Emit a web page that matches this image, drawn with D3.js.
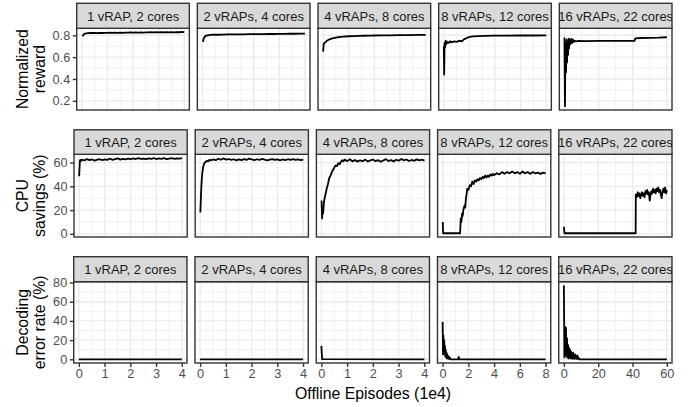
<!DOCTYPE html>
<html>
<head>
<meta charset="utf-8">
<script src="https://cdn.jsdelivr.net/npm/d3@7"></script>
<style>
  html, body { margin: 0; padding: 0; background: #fff; }
  svg { display: block; }
</style>
</head>
<body>
<div id="chart"></div>
<script>
// facet columns (configurations)
const configs = ["1 vRAP, 2 cores", "2 vRAPs, 4 cores", "4 vRAPs, 8 cores", "8 vRAPs, 12 cores", "16 vRAPs, 22 cores"];
const xMaxByConfig = [4, 4, 4, 8, 60];
const xTicksByConfig = [[0, 1, 2, 3, 4], [0, 1, 2, 3, 4], [0, 1, 2, 3, 4], [0, 2, 4, 6, 8], [0, 20, 40, 60]];

// facet rows (metrics)
const metricTitles = [["Normalized", "reward"], ["CPU", "savings (%)"], ["Decoding", "error rate (%)"]];
const yTicksByMetric = [[0.2, 0.4, 0.6, 0.8], [0, 20, 40, 60], [0, 20, 40, 60, 80]];
const yFormatByMetric = [".1f", "d", "d"];
const xTitle = "Offline Episodes (1e4)";

// --- normalized reward, [episodes (1e4), value]
const reward1 = [[0.03,0.790],[0.05,0.800],[0.08,0.810],[0.12,0.815],[0.18,0.818],[0.25,0.820],[0.35,0.821],[0.5,0.822],[0.6,0.820],[0.7,0.823],[0.8,0.821],[0.9,0.823],[1.0,0.822],[1.1,0.824],[1.2,0.822],[1.3,0.824],[1.4,0.823],[1.5,0.825],[1.6,0.823],[1.7,0.825],[1.8,0.824],[1.9,0.826],[2.0,0.824],[2.1,0.826],[2.2,0.825],[2.3,0.827],[2.4,0.825],[2.5,0.827],[2.6,0.826],[2.7,0.828],[2.8,0.826],[2.9,0.828],[3.0,0.827],[3.1,0.829],[3.2,0.826],[3.3,0.828],[3.4,0.827],[3.5,0.829],[3.6,0.827],[3.7,0.829],[3.8,0.828],[3.9,0.830],[4.0,0.829]];
const reward2 = [[0.02,0.740],[0.04,0.765],[0.07,0.780],[0.1,0.790],[0.15,0.797],[0.2,0.800],[0.3,0.803],[0.4,0.805],[0.5,0.806],[0.6,0.805],[0.8,0.807],[1.0,0.808],[1.2,0.808],[1.4,0.809],[1.6,0.809],[1.8,0.810],[2.0,0.810],[2.2,0.811],[2.4,0.811],[2.6,0.812],[2.8,0.812],[3.0,0.813],[3.2,0.813],[3.4,0.814],[3.6,0.814],[3.8,0.815],[4.0,0.815]];
const reward4 = [[0.0,0.650],[0.02,0.720],[0.05,0.728],[0.1,0.740],[0.15,0.750],[0.2,0.758],[0.3,0.767],[0.4,0.774],[0.5,0.779],[0.6,0.783],[0.8,0.788],[1.0,0.791],[1.2,0.793],[1.4,0.795],[1.6,0.796],[1.8,0.797],[2.0,0.798],[2.3,0.799],[2.6,0.800],[3.0,0.801],[3.4,0.802],[3.7,0.803],[4.0,0.803]];
const reward8 = [[0,0.70],[0.03,0.44],[0.06,0.73],[0.1,0.69],[0.15,0.75],[0.2,0.72],[0.3,0.74],[0.4,0.73],[0.5,0.745],[0.6,0.735],[0.8,0.745],[1.0,0.74],[1.2,0.75],[1.4,0.745],[1.6,0.765],[1.8,0.775],[2.0,0.785],[2.3,0.79],[2.7,0.793],[3.2,0.795],[4,0.797],[5,0.797],[6,0.798],[7,0.798],[8,0.799]];
const reward16 = [[0,0.78],[0.3,0.15],[0.6,0.72],[0.9,0.46],[1.2,0.76],[1.5,0.55],[1.8,0.74],[2.1,0.62],[2.4,0.77],[2.7,0.68],[3,0.76],[3.5,0.72],[4,0.77],[4.5,0.73],[5,0.76],[5.5,0.74],[6,0.75],[7,0.745],[8,0.748],[12,0.747],[20,0.748],[30,0.748],[41,0.749],[41.5,0.772],[45,0.775],[50,0.776],[55,0.778],[60,0.782]];

// --- CPU savings (%)
const cpu1 = [[0,48.5],[0.03,62],[0.05,62.2],[0.08,61.5],[0.1,62.5],[0.2,61.8],[0.3,62.9],[0.4,62.0],[0.5,62.6],[0.6,61.7],[0.7,62.4],[0.8,62.8],[0.9,62.1],[1.0,62.7],[1.1,62.3],[1.2,63.4],[1.3,62.2],[1.4,63.0],[1.5,63.6],[1.6,62.5],[1.7,63.1],[1.8,62.7],[1.9,63.3],[2.0,62.8],[2.1,63.5],[2.2,63.0],[2.3,63.7],[2.4,63.1],[2.5,63.4],[2.6,62.9],[2.7,63.6],[2.8,63.2],[2.9,63.8],[3.0,63.0],[3.1,63.5],[3.2,63.1],[3.3,63.7],[3.4,62.9],[3.5,63.4],[3.6,63.8],[3.7,63.2],[3.8,63.6],[3.9,63.3],[4.0,63.7]];
const cpu2 = [[0,18],[0.02,30],[0.04,40],[0.06,47],[0.08,52],[0.1,55],[0.13,58],[0.16,59.5],[0.2,60.5],[0.25,61.5],[0.3,61],[0.35,62.3],[0.4,61.8],[0.5,62.6],[0.6,62],[0.7,63.2],[0.8,62.4],[0.9,63.5],[1.0,62.5],[1.1,63],[1.2,62.2],[1.3,62.8],[1.4,61.9],[1.5,62.7],[1.6,62.1],[1.7,62.9],[1.8,62.3],[1.9,63.4],[2.0,62.6],[2.1,62],[2.2,62.8],[2.3,62.2],[2.4,63.1],[2.5,62.4],[2.6,61.8],[2.7,62.5],[2.8,62.9],[2.9,62.2],[3.0,62.7],[3.1,61.9],[3.2,62.6],[3.3,62.1],[3.4,62.8],[3.5,62.3],[3.6,62.9],[3.7,62.2],[3.8,62.6],[3.9,62],[4.0,62.4]];
const cpu4 = [[0,28],[0.02,13],[0.04,22],[0.06,17],[0.09,26],[0.12,30],[0.16,34],[0.2,38],[0.25,42],[0.3,47],[0.35,49],[0.4,52],[0.45,54],[0.5,56],[0.55,57.5],[0.6,57],[0.65,59.5],[0.7,58.5],[0.75,60.5],[0.8,62],[0.85,61],[0.9,62.5],[1.0,61.2],[1.1,62.8],[1.2,61],[1.3,62.2],[1.4,60.8],[1.5,61.9],[1.6,61.1],[1.7,62.5],[1.8,60.9],[1.9,61.8],[2.0,62.6],[2.1,61.2],[2.2,62],[2.3,60.7],[2.4,61.8],[2.5,62.9],[2.6,61.3],[2.7,62.1],[2.8,61],[2.9,62.4],[3.0,61.6],[3.1,63],[3.2,61.9],[3.3,62.6],[3.4,61.3],[3.5,62.2],[3.6,61.5],[3.7,62.7],[3.8,61.8],[3.9,62.4],[4.0,61.7]];
const cpu8 = [[0,10],[0.03,0.5],[0.1,0.5],[1.35,0.5],[1.4,13],[1.45,10],[1.5,17],[1.55,15],[1.6,20],[1.7,24],[1.75,22],[1.8,30],[1.85,33],[1.9,38],[2.0,37],[2.1,41],[2.2,40],[2.3,44],[2.4,42],[2.5,45],[2.6,44],[2.7,46],[2.8,45],[2.9,47],[3.0,46],[3.1,48],[3.2,47],[3.3,49],[3.4,47.5],[3.5,49],[3.6,48],[3.7,50],[3.8,49],[3.9,50.5],[4.0,49.5],[4.2,51],[4.4,50],[4.6,52],[4.8,50.5],[5.0,52],[5.2,51],[5.4,52.5],[5.6,51],[5.8,52],[6.0,50.5],[6.2,52.5],[6.4,51],[6.6,52],[6.8,50.5],[7.0,52],[7.2,51],[7.4,51.5],[7.6,50.5],[7.8,51.5],[8.0,51]];
const cpu16 = [[0,6],[0.3,0.5],[41.8,0.5],[41.9,33],[42.5,31],[43,35],[43.5,32],[44,34],[44.5,30],[45,33],[45.5,35],[46,32],[46.5,34],[47,31],[47.5,36],[48,34],[48.5,37],[49,33],[49.5,35],[50,28],[50.5,33],[51,36],[51.5,34],[52,38],[52.5,35],[53,37],[53.5,34],[54,38],[54.5,36],[55,39],[55.5,35],[56,37],[56.5,33],[57,30],[57.5,36],[58,38],[58.5,35],[59,39],[59.5,34],[60,37]];

// --- decoding error rate (%)
const err1 = [[0,0],[4,0]];
const err2 = [[0,0],[4,0]];
const err4 = [[0,14],[0.03,0.2],[4,0]];
const err8 = [[0,39],[0.03,5],[0.06,25],[0.09,8],[0.12,20],[0.15,6],[0.18,14],[0.21,3],[0.24,10],[0.27,2],[0.3,7],[0.33,1],[0.36,5],[0.4,1],[0.45,3],[0.5,0.3],[0.55,2],[0.6,0],[1.2,0],[1.25,2.5],[1.3,0],[8,0]];
const err16 = [[0,77],[0.3,2],[0.6,34],[0.9,5],[1.2,33],[1.5,3],[1.8,22],[2.1,2],[2.4,15],[2.7,1],[3,12],[3.3,2],[3.6,10],[3.9,1],[4.2,8],[4.5,1],[4.8,6],[5.1,0.5],[5.4,7],[5.7,1],[6,4],[6.3,0.5],[6.6,5],[6.9,1],[7.2,3],[7.5,0.5],[7.8,4],[8.1,0.5],[8.5,2],[9,0],[60,0]];

const series = [
  [reward1, reward2, reward4, reward8, reward16],
  [cpu1, cpu2, cpu4, cpu8, cpu16],
  [err1, err2, err4, err8, err16]
];

// layout (pixels)
const width = 697, height = 407;
const font = "'Liberation Sans', Arial, Helvetica, sans-serif";
const rows = [
  { stripTop: 3.3, top: 28.3, bottom: 110, left: 76.7 },
  { stripTop: 129.8, top: 154.3, bottom: 237, left: 74 },
  { stripTop: 256.7, top: 281.7, bottom: 363, left: 73.7 }
];
const rightEdge = 672;
const gap = 8;

const svg = d3.select("#chart").append("svg")
  .attr("width", width)
  .attr("height", height)
  .style("font-family", font);

const defs = svg.append("defs");

function minorTicks(ticks, domain) {
  const out = [];
  const step = ticks[1] - ticks[0];
  for (let i = -1; i < ticks.length; i++) {
    const v = ticks[0] + step * (i + 0.5);
    if (v > domain[0] && v < domain[1]) out.push(v);
  }
  return out;
}

rows.forEach((row, r) => {
  const pw = (rightEdge - row.left - gap * 4) / 5;

  // shared y scale for the row, ggplot-like 5% expansion
  const all = series[r].flat();
  const [lo, hi] = d3.extent(all, d => d[1]);
  const pad = (hi - lo) * 0.05;
  const y = d3.scaleLinear().domain([lo - pad, hi + pad]).range([row.bottom, row.top]);
  const yMajor = yTicksByMetric[r];
  const yMinor = minorTicks(yMajor, y.domain());

  configs.forEach((cfg, c) => {
    const x0 = row.left + c * (pw + gap);
    const xm = xMaxByConfig[c];
    const x = d3.scaleLinear().domain([-0.05 * xm, 1.05 * xm]).range([x0, x0 + pw]);
    const xMajor = xTicksByConfig[c];
    const xMinor = minorTicks(xMajor, x.domain());

    const g = svg.append("g");

    g.append("rect")
      .attr("x", x0).attr("y", row.top)
      .attr("width", pw).attr("height", row.bottom - row.top)
      .attr("fill", "#fff");

    // grid
    g.selectAll(".ymin").data(yMinor).join("line")
      .attr("x1", x0).attr("x2", x0 + pw)
      .attr("y1", d => y(d)).attr("y2", d => y(d))
      .attr("stroke", "#ebebeb").attr("stroke-width", 0.7);
    g.selectAll(".xmin").data(xMinor).join("line")
      .attr("x1", d => x(d)).attr("x2", d => x(d))
      .attr("y1", row.top).attr("y2", row.bottom)
      .attr("stroke", "#ebebeb").attr("stroke-width", 0.7);
    g.selectAll(".ymaj").data(yMajor).join("line")
      .attr("x1", x0).attr("x2", x0 + pw)
      .attr("y1", d => y(d)).attr("y2", d => y(d))
      .attr("stroke", "#ebebeb").attr("stroke-width", 1.4);
    g.selectAll(".xmaj").data(xMajor).join("line")
      .attr("x1", d => x(d)).attr("x2", d => x(d))
      .attr("y1", row.top).attr("y2", row.bottom)
      .attr("stroke", "#ebebeb").attr("stroke-width", 1.4);

    // data line
    const clipId = `clip-${r}-${c}`;
    defs.append("clipPath").attr("id", clipId)
      .append("rect")
      .attr("x", x0).attr("y", row.top)
      .attr("width", pw).attr("height", row.bottom - row.top);

    g.append("path")
      .datum(series[r][c])
      .attr("clip-path", `url(#${clipId})`)
      .attr("fill", "none")
      .attr("stroke", "#000")
      .attr("stroke-width", 1.8)
      .attr("stroke-linejoin", "round")
      .attr("d", d3.line().x(d => x(d[0])).y(d => y(d[1])));

    // panel border
    g.append("rect")
      .attr("x", x0).attr("y", row.top)
      .attr("width", pw).attr("height", row.bottom - row.top)
      .attr("fill", "none").attr("stroke", "#333").attr("stroke-width", 1.4);

    // strip
    const stripClip = `strip-${r}-${c}`;
    defs.append("clipPath").attr("id", stripClip)
      .append("rect")
      .attr("x", x0).attr("y", row.stripTop)
      .attr("width", pw).attr("height", row.top - row.stripTop);

    g.append("rect")
      .attr("x", x0).attr("y", row.stripTop)
      .attr("width", pw).attr("height", row.top - row.stripTop)
      .attr("fill", "#d9d9d9").attr("stroke", "#333").attr("stroke-width", 1.4);

    g.append("text")
      .attr("clip-path", `url(#${stripClip})`)
      .attr("x", x0 + pw / 2)
      .attr("y", (row.stripTop + row.top) / 2 + 4.7)
      .attr("text-anchor", "middle")
      .attr("font-size", 13)
      .attr("fill", "#1a1a1a")
      .text(cfg);

    // axes
    if (c === 0) {
      const ax = svg.append("g")
        .attr("transform", `translate(${x0},0)`)
        .call(d3.axisLeft(y).tickValues(yMajor).tickFormat(d3.format(yFormatByMetric[r]))
          .tickSize(3.9).tickPadding(2.6));
      ax.select(".domain").remove();
      ax.selectAll(".tick line").attr("stroke", "#333").attr("stroke-width", 1.4);
      ax.selectAll(".tick text").attr("fill", "#4d4d4d").attr("font-size", 12.7)
        .attr("font-family", font);
    }
    if (r === rows.length - 1) {
      const ax = svg.append("g")
        .attr("transform", `translate(0,${row.bottom})`)
        .call(d3.axisBottom(x).tickValues(xMajor).tickFormat(d3.format("d"))
          .tickSize(3.9).tickPadding(2.2));
      ax.select(".domain").remove();
      ax.selectAll(".tick line").attr("stroke", "#333").attr("stroke-width", 1.4);
      ax.selectAll(".tick text").attr("fill", "#4d4d4d").attr("font-size", 12.7)
        .attr("font-family", font);
    }
  });

  // row title (two lines, rotated)
  const cy = (row.top + row.bottom) / 2;
  metricTitles[r].forEach((line, i) => {
    svg.append("text")
      .attr("transform", `translate(${28.3 + i * 16.7},${cy}) rotate(-90)`)
      .attr("text-anchor", "middle")
      .attr("font-size", 15.8)
      .attr("fill", "#000")
      .text(line);
  });
});

svg.append("text")
  .attr("x", 373)
  .attr("y", 399)
  .attr("text-anchor", "middle")
  .attr("font-size", 15.8)
  .attr("fill", "#000")
  .text(xTitle);
</script>
</body>
</html>
